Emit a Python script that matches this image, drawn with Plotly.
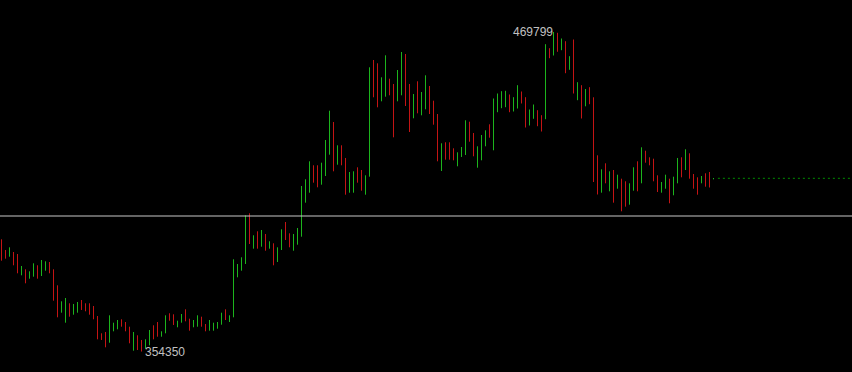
import plotly.graph_objects as go

# Bar index 0..178 (one bar per period)
highs = [394900, 391040, 392010, 390310, 389590, 385250, 384060, 383340, 386230, 385510,
         387420, 386950, 386700, 384060, 378280, 372500, 373690, 371780, 371530, 372250,
         372970, 371780, 371780, 370800, 367190, 360940, 361410, 367440, 364770, 365740,
         366000, 365020, 363320, 361410, 360220, 358520, 358770, 362130, 363830, 365020,
         361660, 367440, 368170, 367800, 365490, 367910, 369610, 366210, 365740, 367440,
         366940, 364300, 365740, 364770, 365020, 368380, 369610, 367440, 387680, 385980,
         388400, 403570, 404300, 396350, 397790, 398260, 396820, 394180, 393460, 392010,
         398510, 401150, 397070, 396820, 398980, 414160, 416580, 423080, 421640, 421640,
         422580, 430780, 441360, 437280, 428860, 428860, 424280, 419220, 419470, 420910,
         419940, 418020, 457040, 459680, 458490, 453430, 461380, 452930, 451010, 456070,
         462570, 461850, 451010, 447400, 451990, 448120, 454150, 450290, 444980, 440170,
         429590, 429950, 429950, 427780, 426330, 428250, 437900, 437390, 433310, 428500,
         432580, 434280, 436450, 445770, 447580, 448410, 448550, 447220, 446240, 450580,
         448300, 446240, 441800, 443600, 441550, 439740, 465390, 463950, 469799, 469510,
         467450, 466470, 461060, 467090, 451660, 450580, 449200, 449860, 446210, 425250,
         420190, 422360, 419470, 419940, 418240, 416800, 415860, 415130, 420910, 423080,
         428140, 426910, 424530, 424020, 418020, 415600, 418240, 416800, 417520, 424280,
         424530, 427420, 425970, 418490, 417300, 417770, 418750, 419220, 417050]

lows = [387170, 387890, 388610, 385510, 382620, 381890, 379000, 380670, 381390, 380670,
        381640, 383560, 382620, 372720, 366720, 368380, 364770, 366940, 367660, 368380,
        369360, 368890, 367660, 366000, 358770, 358520, 355880, 357540, 361660, 362380,
        363320, 361660, 357330, 354650, 354900, 354350, 355380, 356600, 358770, 359710,
        359710, 360940, 365490, 363940, 363110, 364770, 365270, 361880, 363110, 363320,
        363320, 361660, 361880, 361880, 362600, 364050, 365740, 365020, 366720, 381170,
        383560, 385980, 393200, 391510, 391510, 392230, 390780, 391510, 385510, 386700,
        391040, 394650, 392010, 390780, 392950, 395840, 408130, 411740, 415350, 413690,
        414630, 417770, 425470, 419470, 421850, 421640, 411020, 411740, 411740, 415350,
        412460, 411020, 417520, 446210, 442590, 444760, 446420, 446930, 431750, 444760,
        446930, 443060, 433670, 438620, 440420, 439700, 441870, 440170, 436310, 423080,
        419580, 423660, 423660, 423440, 421280, 424640, 425360, 430160, 424890, 420770,
        423440, 428500, 431610, 427060, 440820, 442270, 442630, 440820, 441080, 442160,
        443970, 435290, 436020, 438440, 435760, 433850, 438290, 460330, 461310, 462650,
        463220, 454910, 456140, 447580, 445160, 438550, 442950, 443710, 415600, 411090,
        411740, 415130, 412240, 408130, 413180, 405020, 406680, 407400, 412460, 412240,
        415130, 422580, 421640, 415860, 411990, 411740, 413180, 407910, 410800, 415130,
        417300, 419940, 416800, 413180, 411020, 415130, 413910, 413620, 416580]

# "u" = bullish bar (green), "d" = bearish bar (red)
direction = [
    "d","d","u","d","d","u","d","u","u","d",
    "u","u","d","d","d","u","u","d","u","u",
    "d","d","d","d","d","d","d","u","u","u",
    "d","d","d","u","d","d","u","u","d","d",
    "u","u","d","d","u","u","d","d","u","u",
    "d","d","u","u","u","u","d","u","u","u",
    "u","u","d","u","d","u","d","u","d","u",
    "u","d","d","u","u","u","u","u","d","d",
    "u","u","u","d","u","d","d","u","u","d",
    "d","u","u","d","d","u","u","d","d","u",
    "u","d","d","u","d","u","u","d","d","d",
    "u","d","d","d","u","u","u","d","d","u",
    "u","u","d","u","u","u","u","d","u","u",
    "d","d","u","u","d","d","u","d","u","d",
    "u","d","u","d","u","d","u","d","d","d",
    "u","d","u","d","u","d","d","u","u","d",
    "u","d","d","d","d","u","u","d","u","u",
    "d","u","d","d","d","u","d","d","u",
]

hline_price = 403320     # horizontal level line
bid_price = 416940       # current price (dotted)
high_label = "469799"
low_label = "354350"

UP = "#1cb41c"
DOWN = "#c41414"

fig = go.Figure()
for d, col in (("u", UP), ("d", DOWN)):
    xs, ys = [], []
    for i, (h, l, dd) in enumerate(zip(highs, lows, direction)):
        if dd != d:
            continue
        xs += [i, i, None]
        ys += [h, l, None]
    fig.add_trace(go.Scatter(x=xs, y=ys, mode="lines",
                             line=dict(color=col, width=1),
                             hoverinfo="skip", showlegend=False))

n = len(highs)
fig.add_trace(go.Scatter(x=[n + 0.1, n + 40], y=[bid_price, bid_price], mode="lines",
                         line=dict(color="#008c00", width=1, dash="2px,3px"),
                         hoverinfo="skip", showlegend=False))

fig.add_shape(type="line", xref="paper", x0=0, x1=1, yref="y",
              y0=hline_price, y1=hline_price,
              line=dict(color="#c8c8c8", width=1))

imax = highs.index(max(highs))
imin = lows.index(min(lows))
fig.add_annotation(x=imax, y=highs[imax], text=high_label, showarrow=False,
                   xanchor="right", yanchor="middle", xshift=1,
                   font=dict(family="Liberation Sans, Arial", size=12, color="#c0c0c0"))
fig.add_annotation(x=imin, y=lows[imin], text=low_label, showarrow=False,
                   xanchor="left", yanchor="middle", xshift=1,
                   font=dict(family="Liberation Sans, Arial", size=12, color="#c0c0c0"))

fig.update_layout(
    width=852, height=372,
    margin=dict(l=0, r=0, t=0, b=0, pad=0),
    paper_bgcolor="#000000", plot_bgcolor="#000000",
    hovermode=False,
    xaxis=dict(range=[-0.375, 212.625], visible=False, fixedrange=True),
    yaxis=dict(range=[346956, 481360], visible=False, fixedrange=True),
)

fig.write_html("out.html", config={"displayModeBar": False})
